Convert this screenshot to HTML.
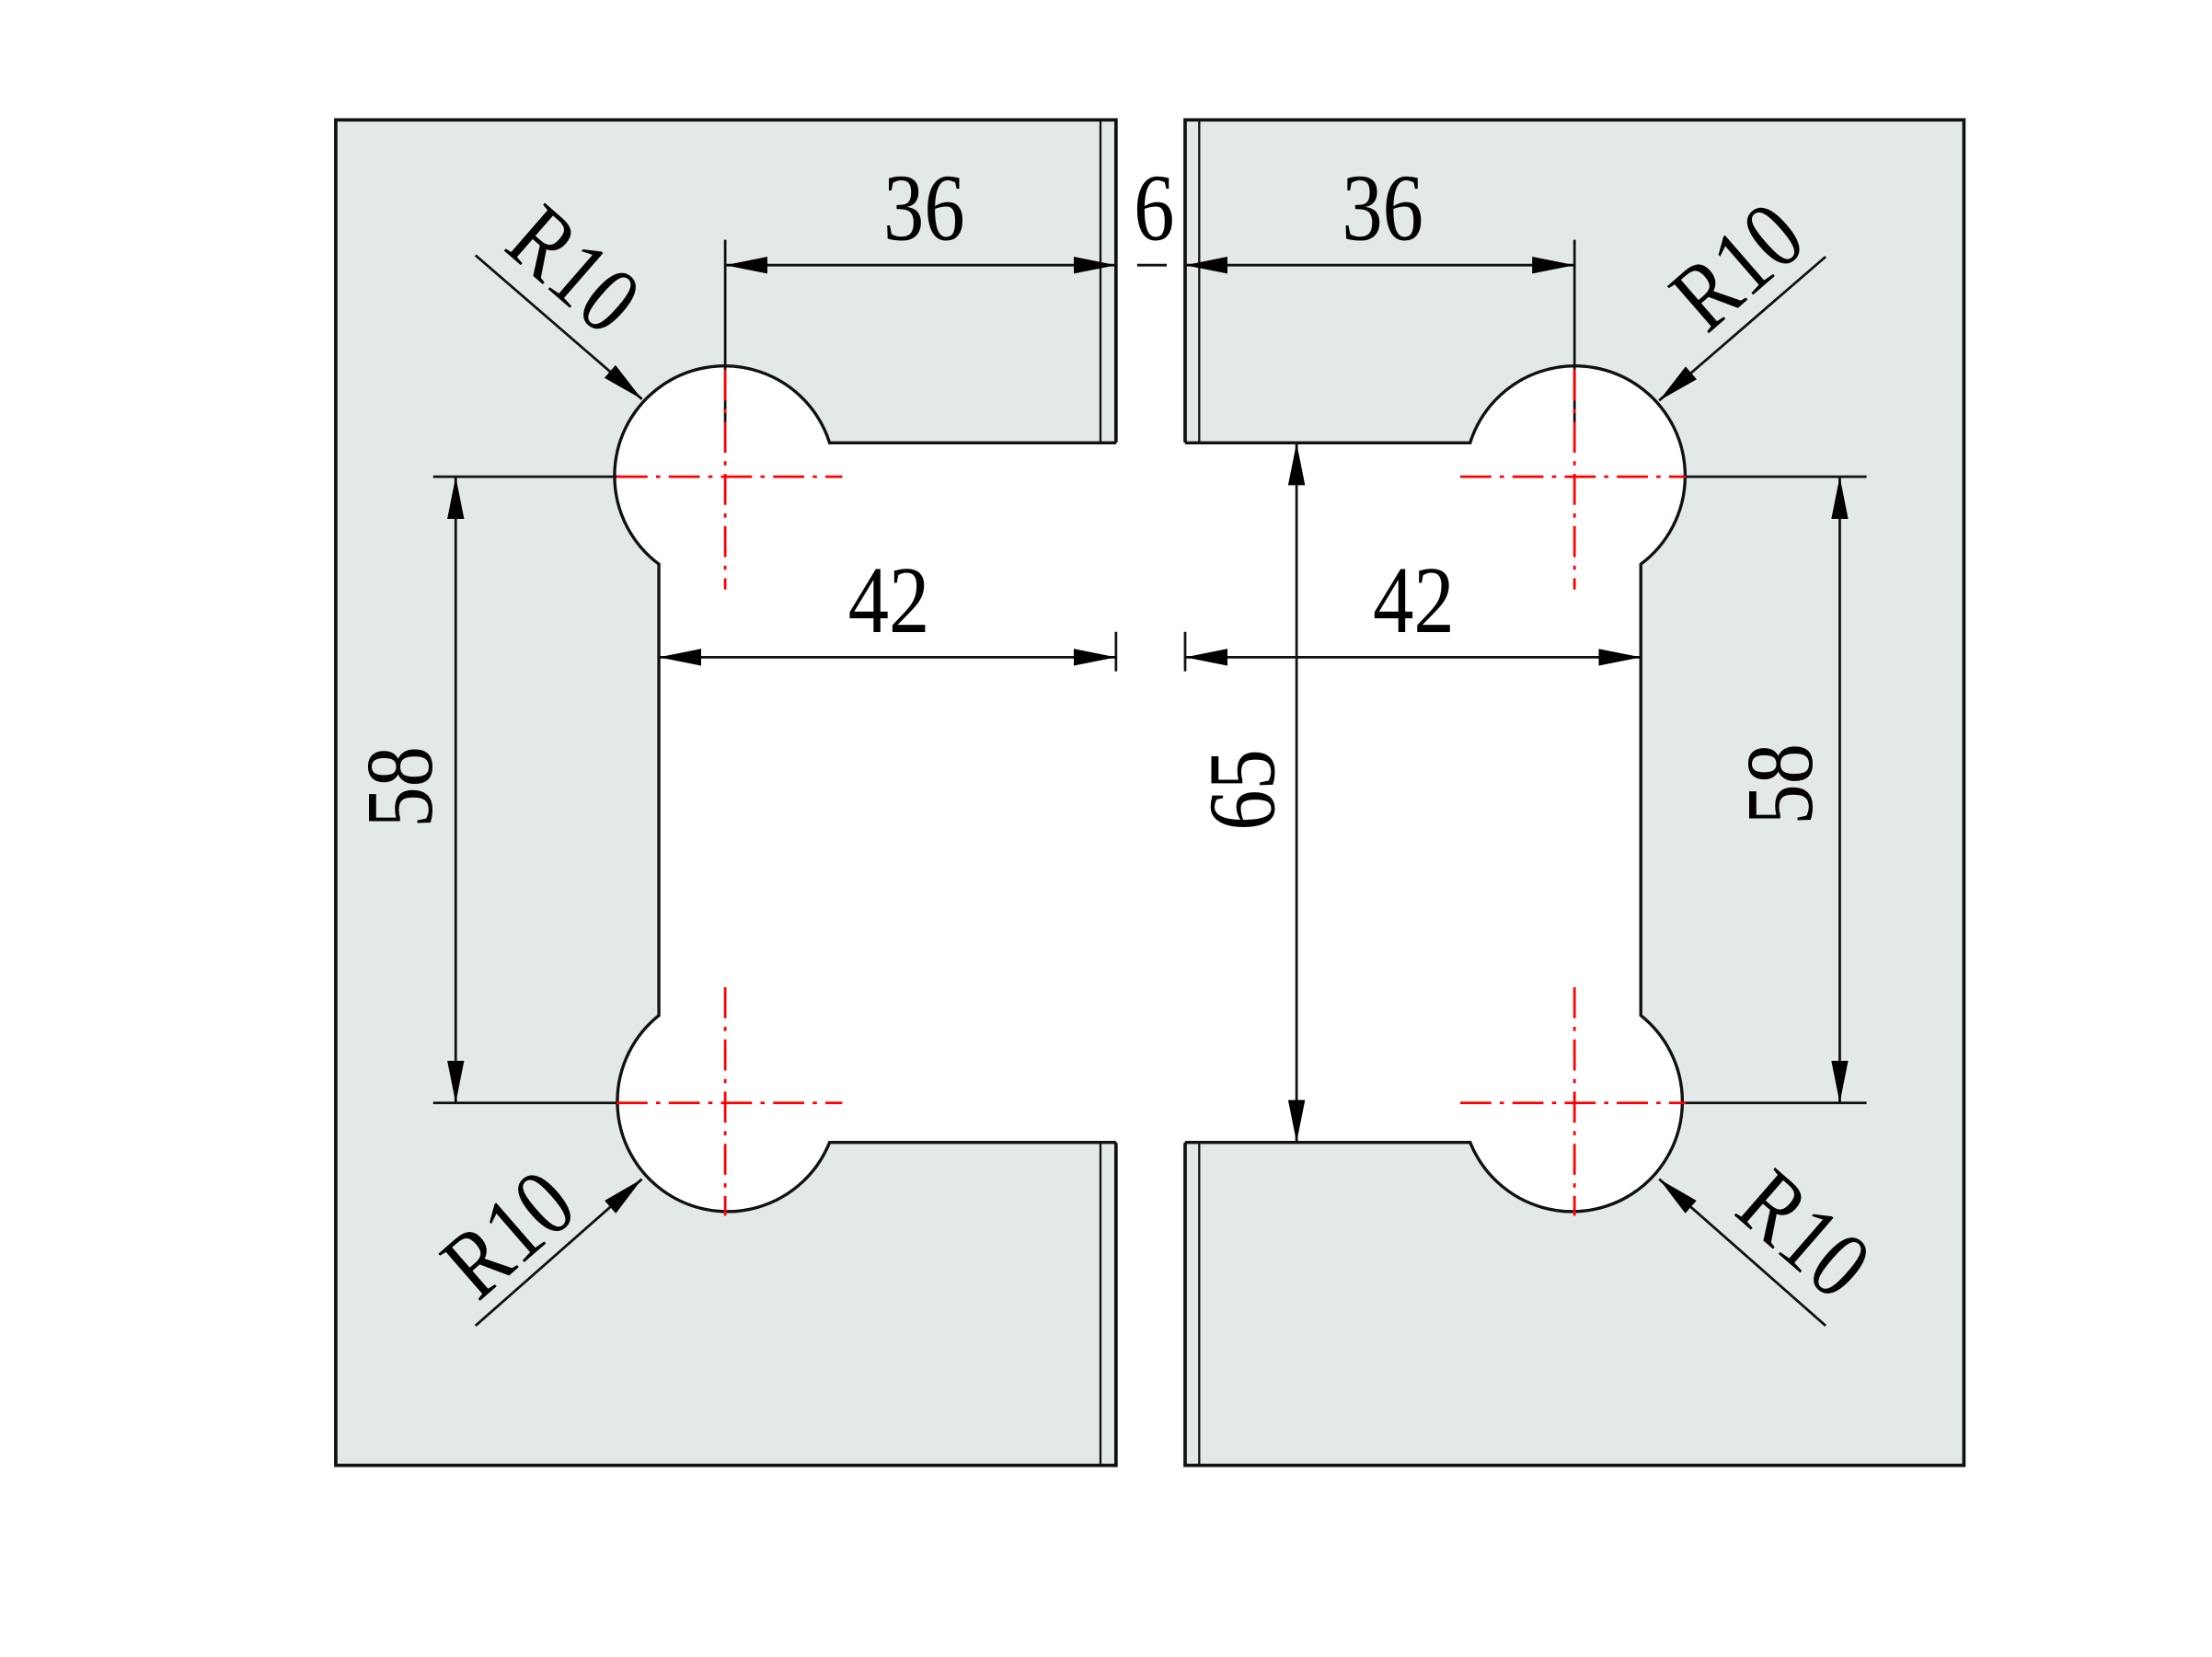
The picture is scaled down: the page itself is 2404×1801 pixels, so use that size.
<!DOCTYPE html>
<html><head><meta charset="utf-8"><style>
html,body{margin:0;padding:0;background:#fff;}
svg{display:block;}
text{font-family:"Liberation Serif",serif;font-size:68px;fill:#000;}
</style></head><body>
<svg width="2404" height="1801" viewBox="0 0 1560 1169" preserveAspectRatio="none" xmlns="http://www.w3.org/2000/svg">
<defs>
<marker id="a" viewBox="0 0 30 12" refX="30" refY="6" markerWidth="30" markerHeight="12" markerUnits="userSpaceOnUse" orient="auto-start-reverse">
<path d="M0,0 L30,6 L0,12 Z" fill="#000"/></marker>
</defs>
<g transform="scale(0.995)">
<rect x="238" y="85" width="553" height="954" fill="#e3e9e8" stroke="#111" stroke-width="2.4"/>
<rect x="840" y="85" width="552" height="954" fill="#e3e9e8" stroke="#111" stroke-width="2.4"/>
<line x1="780" y1="85" x2="780" y2="1039" stroke="#111" stroke-width="1.5"/>
<line x1="850" y1="85" x2="850" y2="1039" stroke="#111" stroke-width="1.5"/>
<path d="M588,314 L1042,314 A78,78 0 1 1 1163,400 L1163,720 A78,78 0 1 1 1042,810 L588,810 A78,78 0 1 1 467,720 L467,400 A78,78 0 1 1 588,314 Z" fill="#fff"/>
<rect x="792" y="313" width="47" height="498" fill="#fff"/>
<path d="M791,314 L588,314 A78,78 0 1 0 467,400 L467,720 A78,78 0 1 0 588,810 L791,810" fill="none" stroke="#111" stroke-width="2.2"/>
<path d="M840,314 L1042,314 A78,78 0 1 1 1163,400 L1163,720 A78,78 0 1 1 1042,810 L840,810" fill="none" stroke="#111" stroke-width="2.2"/>
<g stroke="#111" stroke-width="1.8" fill="none">
<line x1="514" y1="170" x2="514" y2="300"/>
<line x1="1116" y1="170" x2="1116" y2="300"/>
<line x1="791" y1="448" x2="791" y2="476"/>
<line x1="840" y1="448" x2="840" y2="476"/>
<line x1="307" y1="338" x2="440" y2="338"/>
<line x1="307" y1="782" x2="440" y2="782"/>
<line x1="1192" y1="338" x2="1323" y2="338"/>
<line x1="1192" y1="782" x2="1323" y2="782"/>
<line x1="806" y1="188" x2="827" y2="188"/>
<line x1="514" y1="188" x2="791" y2="188" marker-start="url(#a)" marker-end="url(#a)"/>
<line x1="840" y1="188" x2="1116" y2="188" marker-start="url(#a)" marker-end="url(#a)"/>
<line x1="467" y1="466" x2="791" y2="466" marker-start="url(#a)" marker-end="url(#a)"/>
<line x1="840" y1="466" x2="1163" y2="466" marker-start="url(#a)" marker-end="url(#a)"/>
<line x1="919" y1="314" x2="919" y2="810" marker-start="url(#a)" marker-end="url(#a)"/>
<line x1="323" y1="338" x2="323" y2="782" marker-start="url(#a)" marker-end="url(#a)"/>
<line x1="1304" y1="338" x2="1304" y2="782" marker-start="url(#a)" marker-end="url(#a)"/>
<line x1="337" y1="181" x2="455" y2="283" marker-end="url(#a)"/>
<line x1="1294" y1="182" x2="1176" y2="284" marker-end="url(#a)"/>
<line x1="337" y1="940" x2="455" y2="836" marker-end="url(#a)"/>
<line x1="1294" y1="940" x2="1176" y2="836" marker-end="url(#a)"/>
</g>
<g stroke="#f00" stroke-width="1.8" stroke-dasharray="22,6,3,6" fill="none">
<line x1="514" y1="262" x2="514" y2="418"/>
<line x1="437" y1="338" x2="597" y2="338"/>
<line x1="514" y1="700" x2="514" y2="862"/>
<line x1="437" y1="782" x2="597" y2="782"/>
<line x1="1116" y1="262" x2="1116" y2="418"/>
<line x1="1035" y1="338" x2="1195" y2="338"/>
<line x1="1116" y1="700" x2="1116" y2="862"/>
<line x1="1035" y1="782" x2="1195" y2="782"/>
</g>
<g text-anchor="middle">
<text transform="translate(655,170) scale(0.85,1)">36</text>
<text transform="translate(818,170) scale(0.85,1)">6</text>
<text transform="translate(980,170) scale(0.85,1)">36</text>
<text transform="translate(630,448) scale(0.85,1)">42</text>
<text transform="translate(1002,448) scale(0.85,1)">42</text>
<text transform="translate(903,560) rotate(-90) scale(0.85,1)">65</text>
<text transform="translate(306,558) rotate(-90) scale(0.85,1)">58</text>
<text transform="translate(1284,556) rotate(-90) scale(0.85,1)">58</text>
<text transform="translate(392,208) rotate(41) scale(0.85,1)">R10</text>
<text transform="translate(1246,206) rotate(-41) scale(0.85,1)">R10</text>
<text transform="translate(375,892) rotate(-41) scale(0.85,1)">R10</text>
<text transform="translate(1264,892) rotate(41) scale(0.85,1)">R10</text>
</g>
</g>
</svg>
</body></html>
